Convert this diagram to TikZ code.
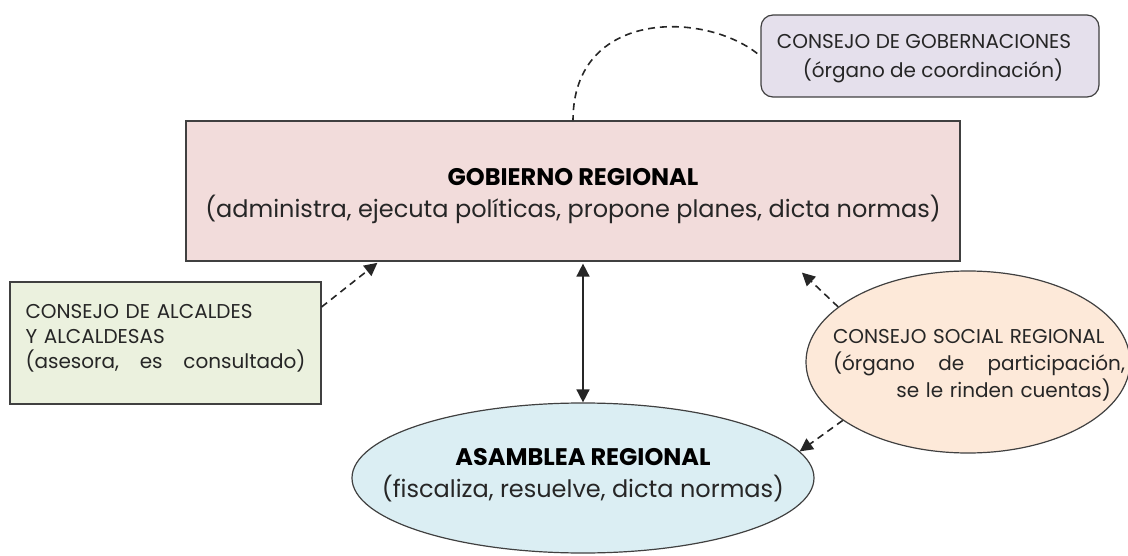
\documentclass[tikz,border=0pt]{standalone}
\usepackage{fontspec}
\setmainfont{Poppins}
\usetikzlibrary{shapes.geometric,arrows.meta}
\definecolor{gobfill}{HTML}{F2DCDB}
\definecolor{gobernfill}{HTML}{E5E0EC}
\definecolor{alcfill}{HTML}{EBF1DE}
\definecolor{asamfill}{HTML}{DBEEF3}
\definecolor{socfill}{HTML}{FDE9D9}
\definecolor{boxline}{HTML}{404040}
\definecolor{textcol}{HTML}{262626}
\newcommand{\spreadline}[1]{\leavevmode\hbox to\linewidth{#1}}
\begin{document}
\begin{tikzpicture}[x=1pt,y=-1pt,
    box/.style={draw=boxline,line width=1.2pt,inner sep=0pt,text=textcol},
    bigtext/.style={font=\fontsize{24}{32}\selectfont,text=textcol},
    smalltext/.style={font=\fontsize{20}{25}\selectfont,text=textcol},
    link/.style={line width=1.6pt,draw=black!85,dash pattern=on 7pt off 5pt,-{Triangle[length=13pt,width=13pt]}}]
  \useasboundingbox (0,0) rectangle (1128,556);
  % main boxes
  \node[box,fill=gobfill,minimum width=774pt,minimum height=140pt,
    label={[bigtext,align=center,yshift=-5pt]center:{{\bfseries\color{black}GOBIERNO REGIONAL}\\(administra, ejecuta políticas, propone planes, dicta normas)}}]
    (gob) at (573,191) {};
  \node[box,fill=asamfill,ellipse,minimum width=462pt,minimum height=150pt,
    label={[bigtext,align=center,yshift=3pt]center:{{\bfseries\color{black}ASAMBLEA REGIONAL}\\(fiscaliza, resuelve, dicta normas)}}]
    (asam) at (583,478) {};
  % side bodies
  \node[box,fill=gobernfill,rounded corners=12pt,minimum width=338pt,minimum height=82pt,
    label={[font=\fontsize{20}{29}\selectfont,text=textcol,align=center,xshift=-6pt,yshift=-3pt]center:{CONSEJO DE GOBERNACIONES\\\hspace*{18pt}(órgano de coordinación)}}]
    (gobern) at (930,56) {};
  \node[box,fill=alcfill,minimum width=311pt,minimum height=122pt,
    label={[smalltext,text width=280pt,align=left,yshift=5pt]center:{CONSEJO DE ALCALDES\\Y ALCALDESAS\\\spreadline{(asesora,\hfill es\hfill consultado)}}}]
    (alc) at (165.5,343) {};
  \node[box,fill=socfill,ellipse,minimum width=324pt,minimum height=182pt,
    label={[font=\fontsize{20}{27}\selectfont,text=textcol,text width=292pt,align=left,xshift=11pt,yshift=-3pt]center:{CONSEJO SOCIAL REGIONAL\\\spreadline{(órgano\hfill de\hfill participación,}\\\spreadline{\hfill se le rinden cuentas)\hspace*{14pt}}}}]
    (soc) at (968,362) {};
  % connectors
  \draw[line width=1.6pt,draw=black!85,dash pattern=on 7pt off 5pt,shorten <=4pt]
    (gobern.west) .. controls +(-57,-45) and +(0,-111) .. (gob.north);
  \draw[link,shorten >=2pt] (alc.13) -- (gob.200);
  \draw[line width=1.6pt,draw=black!85,{Triangle[length=13pt,width=13pt]}-{Triangle[length=13pt,width=13pt]},shorten <=2pt]
    (asam.north |- gob.south) -- (asam.north);
  \draw[link,shorten >=16pt] (soc.157) -- (gob.-18.5);
  \draw[link] (soc.205) -- (asam.7);
\end{tikzpicture}
\end{document}
